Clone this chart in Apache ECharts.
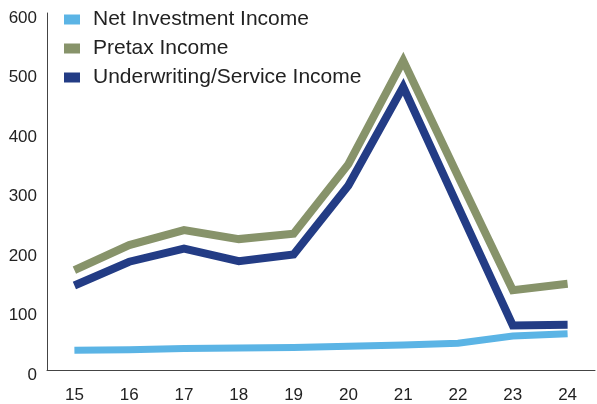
<!DOCTYPE html>
<html><head><meta charset="utf-8">
<script src="https://cdn.jsdelivr.net/npm/echarts@6/dist/echarts.min.js"></script>
<style>html,body{margin:0;padding:0;background:#fff}#c{width:597px;height:404px}</style>
</head><body><div id="c"></div>
<script>
const categories = ['15','16','17','18','19','20','21','22','23','24'];
const netInvestment = [33, 34, 36, 37, 38, 40, 42, 45, 57, 61];
const pretax = [168, 210, 235, 220, 229, 346, 520, 326, 134, 145];
const underwriting = [142, 182, 204, 183, 194, 310, 476, 275, 75, 76];
const seriesNames = ['Net Investment Income', 'Pretax Income', 'Underwriting/Service Income'];

const font = 'Liberation Sans, Arial, sans-serif';
const chart = echarts.init(document.getElementById('c'));
chart.setOption({
  animation: false,
  backgroundColor: '#fff',
  grid: {left: 47, right: 2, top: 13, bottom: 32},
  legend: {
    orient: 'vertical', left: 59, top: 4, icon: 'rect',
    itemWidth: 16, itemHeight: 10, itemGap: 8,
    textStyle: {fontFamily: font, fontSize: 21, color: '#222', lineHeight: 21, padding: [0,0,0,8]},
    data: seriesNames
  },
  xAxis: {
    type: 'category', data: categories, boundaryGap: true,
    axisLine: {lineStyle: {color: '#444', width: 1}},
    axisTick: {show: false},
    axisLabel: {fontFamily: font, fontSize: 17, color: '#222', margin: 17}
  },
  yAxis: {
    type: 'value', min: 0, max: 600, interval: 100,
    axisLine: {show: true, lineStyle: {color: '#444', width: 1}},
    axisTick: {show: false},
    splitLine: {show: false},
    axisLabel: {fontFamily: font, fontSize: 17, color: '#222', margin: 10, verticalAlign: 'top', lineHeight: 10}
  },
  series: [
    {name: seriesNames[0], type: 'line', data: netInvestment, symbol: 'none',
     lineStyle: {color: '#5BB4E5', width: 7, join: 'miter'}, itemStyle: {color: '#5BB4E5'}},
    {name: seriesNames[1], type: 'line', data: pretax, symbol: 'none',
     lineStyle: {color: '#87936A', width: 8, join: 'miter', miterLimit: 10}, itemStyle: {color: '#87936A'}},
    {name: seriesNames[2], type: 'line', data: underwriting, symbol: 'none',
     lineStyle: {color: '#233C85', width: 8, join: 'miter', miterLimit: 10}, itemStyle: {color: '#233C85'}}
  ]
});
</script></body></html>
